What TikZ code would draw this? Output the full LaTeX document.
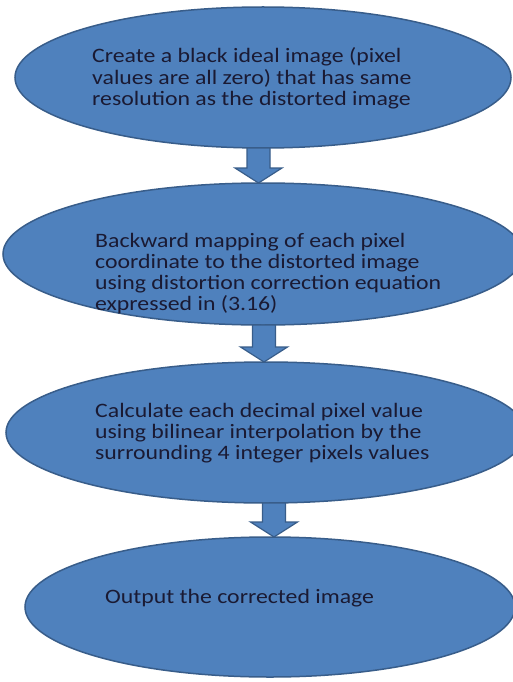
\documentclass[tikz,border=0pt]{standalone}
\usepackage{fontspec}
\setmainfont{Carlito}[FakeStretch=1.16]
\usetikzlibrary{shapes.geometric,calc}
\definecolor{ofill}{HTML}{4F81BD}
\definecolor{oline}{HTML}{385D8A}
\definecolor{otext}{HTML}{1A1A33}
\newcommand\blockarrowdraw[2]{%
  \draw[blockarr] let \p1=(#1), \p2=(#2) in
    (\x1-11.5pt,\y1) -- (\x1+11.5pt,\y1) -- (\x1+11.5pt,\y2+15pt) --
    (\x1+23.5pt,\y2+15pt) -- (\x2,\y2) -- (\x1-23.5pt,\y2+15pt) --
    (\x1-11.5pt,\y2+15pt) -- cycle;}
\begin{document}
\begin{tikzpicture}[x=1pt,y=-1pt,
  stepell/.style={ellipse, draw=oline, line width=1.5pt, fill=ofill, inner sep=0pt},
  steptext/.style={anchor=base west, inner sep=0pt, text=otext,
    font=\fontsize{20.5}{21}\selectfont},
  blockarr/.style={draw=oline, line width=1.2pt, fill=ofill, line join=miter}]
\useasboundingbox (0,0) rectangle (512,682);
\fill[white] (0,0) rectangle (512,682);
\node[stepell, minimum width=496pt, minimum height=141pt] (e1) at (263,77.5) {};
\node[stepell, minimum width=520pt, minimum height=142pt] (e2) at (263,254) {};
\node[stepell, minimum width=520pt, minimum height=141pt] (e3) at (266,432.5) {};
\node[stepell, minimum width=490pt, minimum height=140pt] (e4) at (270,607) {};
\coordinate (a1s) at (258.5,148);
\coordinate (a1e) at (258.5,183);
\coordinate (a2s) at (264,325);
\coordinate (a2e) at (264,362);
\coordinate (a3s) at (274,503);
\coordinate (a3e) at (274,537);
\blockarrowdraw{a1s}{a1e}
\blockarrowdraw{a2s}{a2e}
\blockarrowdraw{a3s}{a3e}
\node[steptext] (t1) at (92,63) {\begin{tabular}[t]{@{}l@{}}Create a black ideal image (pixel\\values are all zero) that has same\\resolution as the distorted image\end{tabular}};
\node[steptext] (t2) at (95,247) {\begin{tabular}[t]{@{}l@{}}Backward mapping of each pixel\\coordinate to the distorted image\\using distortion correction equation\\expressed in (3.16)\end{tabular}};
\node[steptext] (t3) at (95,417) {\begin{tabular}[t]{@{}l@{}}Calculate each decimal pixel value\\using bilinear interpolation by the\\surrounding 4 integer pixels values\end{tabular}};
\node[steptext] (t4) at (105,603) {Output the corrected image};
\end{tikzpicture}
\end{document}
